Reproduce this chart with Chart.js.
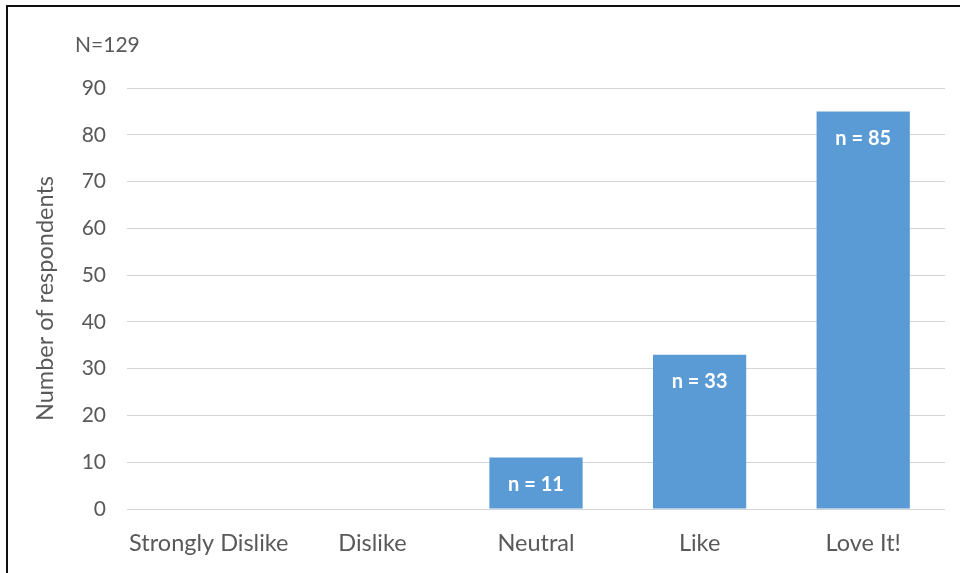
<!DOCTYPE html>
<html>
<head>
<meta charset="utf-8">
<script src="https://cdn.jsdelivr.net/npm/chart.js@4.4.1/dist/chart.umd.min.js"></script>
<style>
  html, body { margin: 0; padding: 0; background: #fff; }
  #wrap { position: relative; width: 960px; height: 573px; overflow: hidden; }
  #frame { position: absolute; left: 6px; top: 5px; width: 1000px; height: 1000px;
           border-top: 2px solid #111; border-left: 2px solid #111; pointer-events: none; }
  #note { position: absolute; left: 75px; top: 31px; font-family: Lato, sans-serif;
          font-size: 21px; color: #595959; }
  canvas { position: absolute; left: 0; top: 0; }
</style>
</head>
<body>
<div id="wrap">
  <canvas id="c" width="960" height="573"></canvas>
  <div id="frame"></div>
  <div id="note">N=129</div>
</div>
<script>
const categories = ["Strongly Dislike", "Dislike", "Neutral", "Like", "Love It!"];
const respondents = [0, 0, 11, 33, 85];
const yTicks = [0, 10, 20, 30, 40, 50, 60, 70, 80, 90];

const FONT = "Lato, sans-serif";
const GREY = "#595959";

const barLabels = {
  id: "barLabels",
  afterDatasetsDraw(chart) {
    const ctx = chart.ctx;
    const meta = chart.getDatasetMeta(0);
    ctx.save();
    ctx.font = "bold 20px " + FONT;
    ctx.fillStyle = "#ffffff";
    ctx.textAlign = "center";
    ctx.textBaseline = "middle";
    meta.data.forEach((bar, i) => {
      const v = respondents[i];
      if (!v) return;
      ctx.fillText("n = " + v, bar.x, bar.y + 27);
    });
    ctx.restore();
  }
};

new Chart(document.getElementById("c"), {
  type: "bar",
  data: {
    labels: categories,
    datasets: [{
      data: respondents,
      backgroundColor: "#5B9BD5",
      barPercentage: 1,
      categoryPercentage: 0.57
    }]
  },
  options: {
    responsive: false,
    animation: false,
    layout: { padding: { top: 88, right: 15, bottom: 0, left: 0 } },
    plugins: { legend: { display: false }, tooltip: { enabled: false } },
    scales: {
      x: {
        grid: { display: false, drawTicks: false },
        border: { display: false },
        ticks: { color: GREY, font: { family: FONT, size: 23.5 }, padding: 20, maxRotation: 0 },
        afterFit(s) { s.height = 64; }
      },
      y: {
        min: 0, max: 90,
        afterBuildTicks(s) { s.ticks = yTicks.map(v => ({ value: v })); },
        grid: { color: "#d4d4d4", lineWidth: 1, drawTicks: false },
        border: { display: false },
        ticks: { color: GREY, font: { family: FONT, size: 21 }, padding: 21 },
        title: { display: true, text: "Number of respondents", color: GREY,
                 font: { family: FONT, size: 23.5 }, padding: { top: 31, bottom: 0 } },
        afterFit(s) { s.width = 127; }
      }
    }
  },
  plugins: [barLabels]
});
</script>
</body>
</html>
